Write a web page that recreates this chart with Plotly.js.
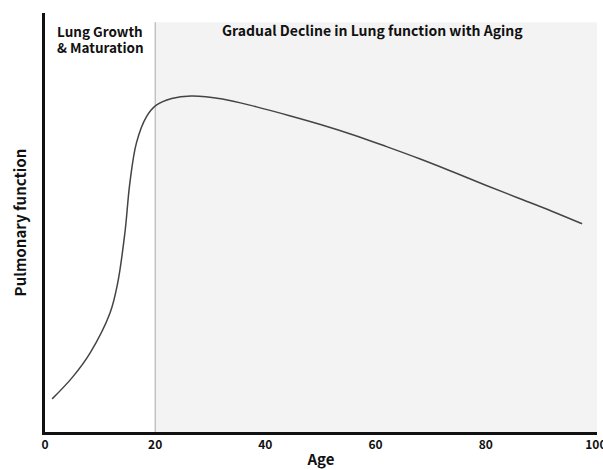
<!DOCTYPE html>
<html>
<head>
<meta charset="utf-8">
<script src="https://cdn.plot.ly/plotly-3.0.1.min.js"></script>
<style>html,body{margin:0;padding:0;background:#fff;}#chart{width:603px;height:470px;}</style>
</head>
<body>
<div id="chart"></div>
<script>
var ages = [1.3, 5.0, 8.2, 11.8, 13.2, 14.5, 15.4, 16.6, 18.4, 20.2, 23, 26.5, 32.2, 38.4, 44.4, 50, 56, 62, 68, 74, 80, 86, 92, 97.5];
var pulmonary = [7.9, 13.1, 18.9, 28.4, 35.6, 47.5, 59.4, 69, 75.2, 78, 79.6, 80.2, 79.5, 77.6, 75.5, 73.4, 70.9, 68.1, 65.2, 62.1, 58.9, 55.8, 52.7, 49.7];
var xTicks = [0, 20, 40, 60, 80, 100];
var phaseBoundary = 20;
var growthLines = ["Lung Growth", "& Maturation"];
var labelDecline = "Gradual Decline in Lung function with Aging";

var FONT = "'Noto Sans CJK KR', 'Open Sans', sans-serif";

var trace = {
  x: ages, y: pulmonary, type: 'scatter', mode: 'lines',
  line: {color: '#444444', width: 1.5, shape: 'spline', smoothing: 1},
  hoverinfo: 'skip', showlegend: false
};

function py(p) { return (432 - p) / 419; }

var annotations = growthLines.map(function (t, i) {
  return {text: '<b>' + t + '</b>', xref: 'x', yref: 'paper', x: 10, y: py(31 + i * 16.5), yanchor: 'middle',
    showarrow: false, align: 'center', font: {family: FONT, size: 13.5, color: '#111111'}};
});
annotations.push({text: '<b>' + labelDecline + '</b>', xref: 'x', yref: 'paper', x: 59.5, y: py(30), yanchor: 'middle',
  showarrow: false, align: 'center', font: {family: FONT, size: 14, color: '#111111'}});

var layout = {
  width: 603, height: 470,
  margin: {l: 45, r: 6, t: 13, b: 38},
  paper_bgcolor: '#ffffff', plot_bgcolor: '#ffffff',
  font: {family: FONT, color: '#111111'},
  xaxis: {
    range: [0, 100.2], tickvals: xTicks, ticktext: xTicks.map(String),
    showgrid: false, zeroline: false, showline: true, linecolor: '#111111', linewidth: 3,
    ticks: '', ticklabeloverflow: 'allow', tickfont: {family: FONT, size: 12, color: '#111111', weight: 'bold'},
    title: {text: '<b>Age</b>', font: {family: FONT, size: 15, color: '#111111'}, standoff: 4},
    fixedrange: true
  },
  yaxis: {
    range: [0, 100], showticklabels: false, ticks: '',
    showgrid: false, zeroline: false, showline: true, linecolor: '#111111', linewidth: 3,
    title: {text: '<b>Pulmonary function</b>', font: {family: FONT, size: 15, color: '#111111'}, standoff: 12},
    fixedrange: true
  },
  shapes: [
    {type: 'rect', xref: 'x', yref: 'paper', x0: phaseBoundary, x1: 100.2, y0: 0, y1: 0.978,
     fillcolor: '#f3f3f3', line: {width: 0}, layer: 'below'},
    {type: 'line', xref: 'x', yref: 'paper', x0: phaseBoundary, x1: phaseBoundary, y0: 0, y1: 0.978,
     line: {color: '#aaaaaa', width: 1}, layer: 'below'}
  ],
  annotations: annotations
};

Plotly.newPlot('chart', [trace], layout, {staticPlot: true, displayModeBar: false});
</script>
</body>
</html>
